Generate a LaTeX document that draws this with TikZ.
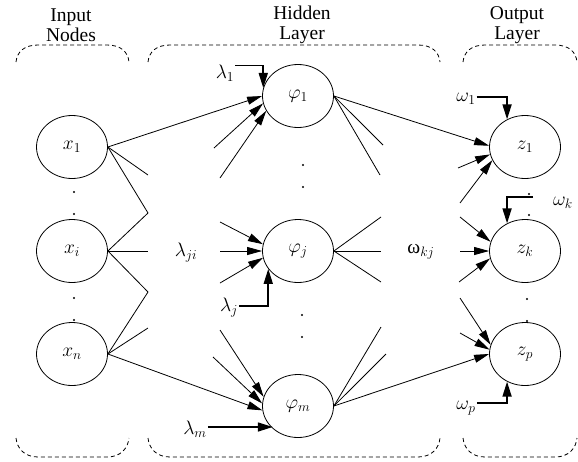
\RequirePackage{fix-cm}
\documentclass[tikz,border=0pt]{standalone}
\usepackage{fontspec}
\setmainfont{Liberation Serif}
\usetikzlibrary{arrows.meta,calc,shapes.geometric}
\begin{document}
\begin{tikzpicture}[x=1pt,y=-1pt,
  neuron/.style={draw,line width=0.8pt,ellipse,minimum width=71pt,minimum height=63pt,inner sep=0pt,font=\fontsize{19.5}{22}\selectfont},
  lbl/.style={inner sep=1pt,font=\fontsize{19.5}{22}\selectfont},
  head/.style={align=center,font=\fontsize{19.5}{20}\selectfont,inner sep=0pt},
  conn/.style={line width=0.8pt},
  arr/.style={conn,-{Triangle[length=15pt,width=8pt]}},
  brk/.style={line width=1.6pt,-{Triangle[length=15pt,width=9pt]}},
  grp/.style={dash pattern=on 4pt off 3pt,line width=0.8pt}]
\useasboundingbox (0,0) rectangle (578,461);

% headings
\node[head] (hin)  at (71,25)  {Input\\Nodes};
\node[head] (hhid) at (302,25) {Hidden\\Layer};
\node[head] (hout) at (517,25) {Output\\Layer};

% group brackets
\foreach \l/\r in {16/129,148/440,463/577}{
  \draw[grp] (\l,62) .. controls (\l+1,52) and (\l+8,45) .. (\l+22,45) -- (\r-22,45) .. controls (\r-8,45) and (\r-1,52) .. (\r,62);
  \draw[grp] (\l,438) .. controls (\l+1,448) and (\l+8,457) .. (\l+22,457) -- (\r-22,457) .. controls (\r-8,457) and (\r-1,448) .. (\r,438);
}

% neurons
\node[neuron] (x1) at (72,147) {$x_1$};
\node[neuron] (xi) at (72,251) {$x_i$};
\node[neuron] (xn) at (72,354) {$x_n$};
\node[neuron] (p1) at (298,96)  {$\varphi_1$};
\node[neuron] (pj) at (298,251) {$\varphi_j$};
\node[neuron] (pm) at (298,406) {$\varphi_m$};
\node[neuron] (z1) at (525,147) {$z_1$};
\node[neuron] (zk) at (525,251) {$z_k$};
\node[neuron] (zp) at (525,354) {$z_p$};

% dots
\foreach \x/\y in {74/192,74/214,74/298,74/320,303/165,303/187,302/315,302/337,529/194,529/215,527/299,527/321}
  \fill (\x,\y) circle (1.1pt);

% labels
\node[lbl] (lam1) at (225,73)  {$\lambda_1$};
\node[lbl] (lamj) at (229,308) {$\lambda_j$};
\node[lbl] (lamm) at (195,429) {$\lambda_m$};
\node[lbl] (lamji) at (186,253) {$\lambda_{ji}$};
\node[lbl] (omkj) at (421,252) {ω$_{kj}$};
\node[lbl] (om1) at (466,99)  {$\omega_1$};
\node[lbl] (omk) at (563,203) {$\omega_k$};
\node[lbl] (omp) at (466,408) {$\omega_p$};

% free ends of truncated connectors
\coordinate (ia1) at (148,175);
\coordinate (ia2) at (148,213);
\coordinate (ia3) at (148,251);
\coordinate (ia4) at (148,292);
\coordinate (ia5) at (148,328);
\coordinate (ha1) at (214,148);
\coordinate (ha2) at (220,178);
\coordinate (hb1) at (220,222);
\coordinate (hb2) at (220,251);
\coordinate (hb3) at (220,283);
\coordinate (hc1) at (220,330);
\coordinate (hc2) at (213,357);
\coordinate (oa1) at (383,145);
\coordinate (oa2) at (380,175);
\coordinate (ob1) at (381,217);
\coordinate (ob2) at (381,251);
\coordinate (ob3) at (381,282);
\coordinate (oc1) at (381,327);
\coordinate (oc2) at (386,354);
\coordinate (za1) at (458,168);
\coordinate (za2) at (460,203);
\coordinate (zb1) at (460,217);
\coordinate (zb2) at (460,251);
\coordinate (zb3) at (459,282);
\coordinate (zc1) at (460,298);
\coordinate (zc2) at (460,333);
\coordinate (omks) at (533,197);

% input -> hidden
\draw[arr] (x1.east) -- (p1.180);
\draw[conn] (x1.east) -- (ia1);
\draw[conn] (x1.east) -- (ia2);
\draw[conn] (xi.east) -- (ia2);
\draw[conn] (xi.east) -- (ia3);
\draw[conn] (xi.east) -- (ia4);
\draw[conn] (xn.east) -- (ia4);
\draw[conn] (xn.east) -- (ia5);
\draw[arr] (xn.east) -- (pm.187);
\draw[arr] (ha1) -- (p1.192);
\draw[arr] (ha2) -- (p1.205);
\draw[arr] (hb1) -- (pj.169);
\draw[arr] (hb2) -- (pj.180);
\draw[arr] (hb3) -- (pj.191);
\draw[arr] (hc1) -- (pm.165);
\draw[arr] (hc2) -- (pm.176);

% hidden biases
\draw[brk] ([yshift=-2pt]lam1.north east) -| (p1.167);
\draw[brk] ([yshift=2pt]lamj.east) -| (pj.211);
\draw[brk] ([yshift=2pt]lamm.east) -- ([yshift=2pt]lamm.east -| pm.222);

% hidden -> output
\draw[arr] (p1.east) -- (z1.178);
\draw[conn] (p1.east) -- (oa1);
\draw[conn] (p1.east) -- (oa2);
\draw[conn] (pj.east) -- (ob1);
\draw[conn] (pj.east) -- (ob2);
\draw[conn] (pj.east) -- (ob3);
\draw[conn] (pm.east) -- (oc1);
\draw[conn] (pm.east) -- (oc2);
\draw[arr] (pm.east) -- (zp.180);
\draw[arr] (za1) -- (z1.192);
\draw[arr] (za2) -- (z1.202);
\draw[arr] (zb1) -- (zk.165);
\draw[arr] (zb2) -- (zk.180);
\draw[arr] (zb3) -- (zk.192);
\draw[arr] (zc1) -- (zp.165);
\draw[arr] (zc2) -- (zp.173);

% output biases
\draw[brk] ([yshift=2pt]om1.east) -| (z1.123);
\draw[brk] (omks) -| (zk.123);
\draw[brk] ([yshift=5pt]omp.east) -| (zp.237);
\end{tikzpicture}
\end{document}
